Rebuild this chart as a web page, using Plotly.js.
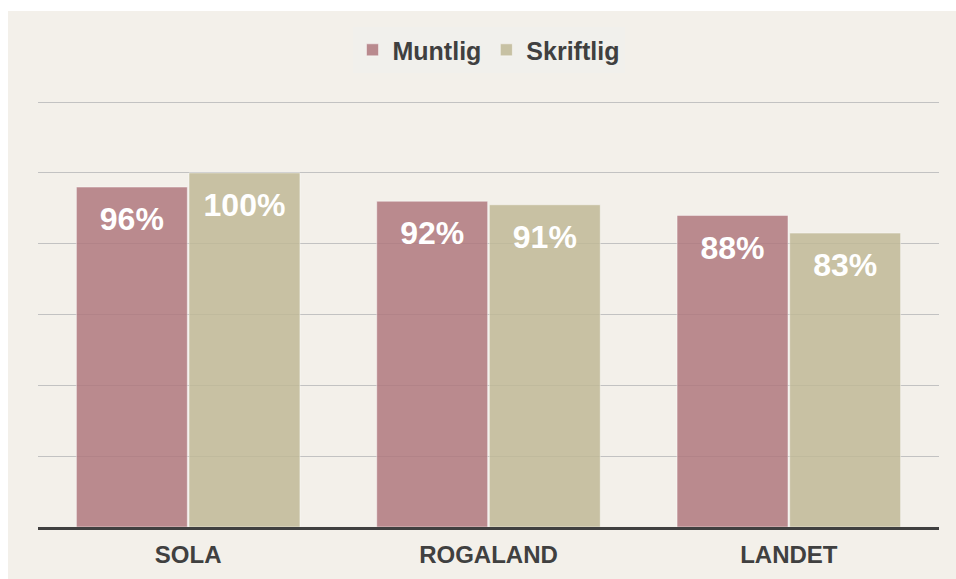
<!DOCTYPE html>
<html>
<head>
<meta charset="utf-8">
<script src="https://cdn.plot.ly/plotly-3.0.1.min.js"></script>
<style>
  html, body { margin: 0; padding: 0; background: #ffffff; width: 956px; height: 579px; overflow: hidden; }
  #chart { position: absolute; left: 8px; top: 11px; width: 948px; height: 568px; }
</style>
</head>
<body>
<div id="chart"></div>
<script>
const categories = ['SOLA', 'ROGALAND', 'LANDET'];
const muntlig = [96, 92, 88];
const skriftlig = [100, 91, 83];
const seriesNames = ['Muntlig', 'Skriftlig'];

const FONT = 'Liberation Sans, Arial, sans-serif';
const colMuntlig = 'rgba(175,120,126,0.85)';
const colSkriftlig = 'rgba(192,185,150,0.85)';

function barTrace(name, vals, color) {
  return {
    type: 'bar', name: name, x: categories, y: vals,
    marker: { color: color, line: { color: 'rgba(255,255,255,0.45)', width: 1 } },
    hoverinfo: 'skip'
  };
}
function labelTrace(vals) {
  return {
    type: 'scatter', mode: 'markers+text', x: categories, y: vals,
    marker: { size: 29, opacity: 0 },
    text: vals.map(v => v + '%'),
    textposition: 'bottom center',
    textfont: { family: FONT, size: 32, color: '#ffffff', weight: 'bold' },
    showlegend: false, hoverinfo: 'skip', cliponaxis: false
  };
}

const data = [
  barTrace(seriesNames[0], muntlig, colMuntlig),
  barTrace(seriesNames[1], skriftlig, colSkriftlig),
  labelTrace(muntlig),
  labelTrace(skriftlig)
];

const layout = {
  width: 948, height: 568,
  paper_bgcolor: '#f3f0ea',
  plot_bgcolor: 'rgba(0,0,0,0)',
  margin: { l: 30, r: 17, t: 84, b: 52 },
  barmode: 'group',
  bargap: 0.25,
  bargroupgap: 0.015,
  scattermode: 'group',
  scattergap: 0.25,
  font: { family: FONT, color: '#404040' },
  showlegend: true,
  legend: {
    orientation: 'h', x: 0.5, xanchor: 'center', y: 1.104, yanchor: 'middle',
    bgcolor: '#f1f0ec',
    font: { family: FONT, size: 25, color: '#404040', weight: 'bold' },
    itemclick: false, itemdoubleclick: false
  },
  xaxis: {
    type: 'category',
    showline: true, linecolor: '#404040', linewidth: 3,
    showgrid: false, ticks: '',
    tickfont: { family: FONT, size: 24, color: '#404040', weight: 'bold' },
    ticklabelstandoff: 4
  },
  yaxis: {
    range: [0, 122], dtick: 20, tick0: 0,
    showticklabels: false, ticks: '',
    showgrid: true, gridcolor: '#c2c2c2', gridwidth: 1,
    zeroline: false, showline: false
  }
};

Plotly.newPlot('chart', data, layout, { displayModeBar: false, staticPlot: true });
</script>
</body>
</html>
